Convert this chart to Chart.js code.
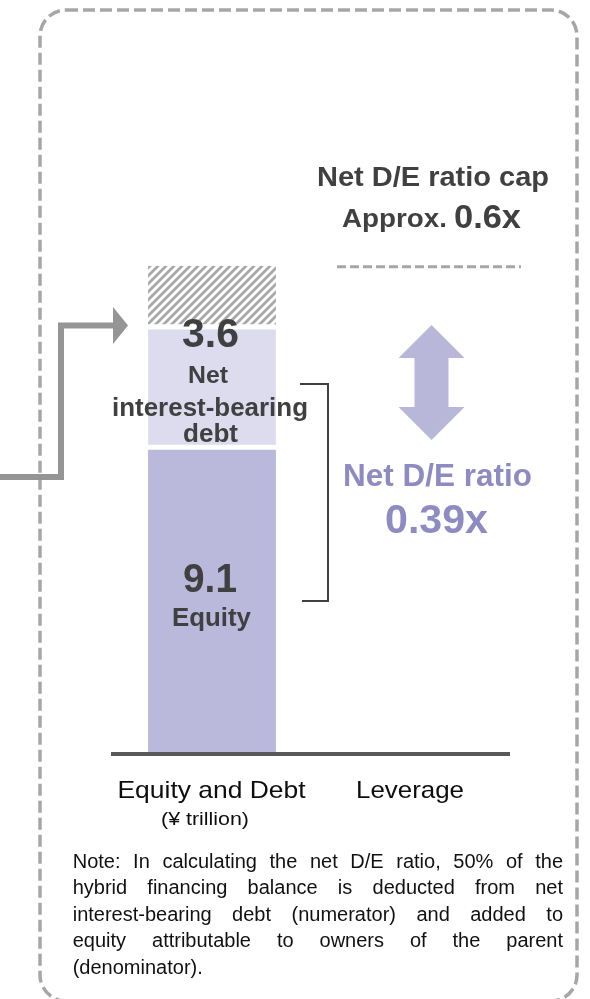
<!DOCTYPE html>
<html>
<head>
<meta charset="utf-8">
<script src="https://cdn.jsdelivr.net/npm/chart.js@4.4.1/dist/chart.umd.min.js"></script>
<style>
  html, body { margin: 0; padding: 0; background: #fff; }
  #chart { display: block; }
</style>
</head>
<body>
<canvas id="chart" width="590" height="999"></canvas>
<script>
const categories = ["Equity and Debt", "Leverage"];
const equity = [9.1, null];
const netDebt = [3.6, null];
const capRoom = [1.9, null]; // hatched headroom up to the cap
const deRatio = "0.39x";
const deCap = "0.6x";
const unitLabel = "(¥ trillion)";
const noteLines = [
  "Note: In calculating the net D/E ratio, 50% of the",
  "hybrid financing balance is deducted from net",
  "interest-bearing debt (numerator) and added to",
  "equity attributable to owners of the parent",
  "(denominator)."
];

const FONT = '"Liberation Sans", Arial, sans-serif';
const DARK = "#404040";
const LAVENDER = "#bab9db";
const LIGHT = "#dcdcee";

function hatch() {
  const c = document.createElement("canvas");
  c.width = 8;
  c.height = 8;
  const g = c.getContext("2d");
  g.strokeStyle = "#a8a8a8";
  g.lineWidth = 2.8;
  g.beginPath();
  g.moveTo(-2, 10); g.lineTo(10, -2);
  g.moveTo(-2, 2); g.lineTo(2, -2);
  g.moveTo(6, 10); g.lineTo(10, 6);
  g.stroke();
  return g.createPattern(c, "repeat");
}

// draw text squeezed/stretched to sit between x0 and x1
function fitText(ctx, text, x0, x1, baseline, size, weight, color) {
  ctx.save();
  ctx.font = `${weight} ${size}px ${FONT}`;
  const w = ctx.measureText(text).width;
  ctx.translate(x0, baseline);
  ctx.scale((x1 - x0) / w, 1);
  ctx.fillStyle = color;
  ctx.textAlign = "left";
  ctx.textBaseline = "alphabetic";
  ctx.fillText(text, 0, 0);
  ctx.restore();
}

function fitCentered(ctx, text, cx, width, baseline, size, weight, color) {
  fitText(ctx, text, cx - width / 2, cx + width / 2, baseline, size, weight, color);
}

function drawNote(ctx, left, right, top, lead) {
  ctx.save();
  ctx.font = `20px ${FONT}`;
  ctx.fillStyle = "#111";
  ctx.textBaseline = "alphabetic";
  noteLines.forEach((line, i) => {
    const y = top + i * lead;
    if (i === noteLines.length - 1) {
      ctx.fillText(line, left, y);
      return;
    }
    const words = line.split(" ");
    const wordsW = words.reduce((s, w) => s + ctx.measureText(w).width, 0);
    const gap = (right - left - wordsW) / (words.length - 1);
    let x = left;
    words.forEach(w => {
      ctx.fillText(w, x, y);
      x += ctx.measureText(w).width + gap;
    });
  });
  ctx.restore();
}

const annotations = {
  id: "annotations",
  afterDraw(chart) {
    const ctx = chart.ctx;
    const x = chart.scales.x;
    const y = chart.scales.y;

    // dashed frame
    ctx.save();
    ctx.strokeStyle = "#a6a6a6";
    ctx.lineWidth = 3.5;
    ctx.setLineDash([12, 5]);
    ctx.beginPath();
    ctx.roundRect(40, 10, 537, 991, 26);
    ctx.stroke();
    ctx.restore();

    // grey arrow coming in from the left
    ctx.save();
    ctx.strokeStyle = "#959595";
    ctx.fillStyle = "#959595";
    ctx.lineWidth = 6;
    ctx.lineJoin = "miter";
    ctx.beginPath();
    ctx.moveTo(0, 477);
    ctx.lineTo(61, 477);
    ctx.lineTo(61, 325.5);
    ctx.lineTo(114, 325.5);
    ctx.stroke();
    ctx.beginPath();
    ctx.moveTo(113, 307);
    ctx.lineTo(128, 325.5);
    ctx.lineTo(113, 344);
    ctx.closePath();
    ctx.fill();
    ctx.restore();

    // cap level dashed line
    const capY = y.getPixelForValue(equity[0] + netDebt[0] + capRoom[0]) + 1;
    ctx.save();
    ctx.strokeStyle = "#a6a6a6";
    ctx.lineWidth = 3;
    ctx.setLineDash([9, 4]);
    ctx.beginPath();
    ctx.moveTo(337, capY);
    ctx.lineTo(521, capY);
    ctx.stroke();
    ctx.restore();

    // cap text
    fitText(ctx, "Net D/E ratio cap", 317, 549, 186, 27, "bold", DARK);
    fitText(ctx, "Approx.", 342, 447, 227, 25, "bold", DARK);
    fitText(ctx, deCap, 454, 521, 228, 33, "bold", DARK);

    // bar segment labels
    fitText(ctx, netDebt[0].toFixed(1), 182, 239, 347, 41, "bold", DARK);
    fitText(ctx, "Net", 188, 228, 383, 24, "bold", DARK);
    fitText(ctx, "interest-bearing", 112, 308, 416, 25, "bold", DARK);
    fitText(ctx, "debt", 183, 238, 442, 25, "bold", DARK);
    fitText(ctx, equity[0].toFixed(1), 183, 237, 592, 41, "bold", DARK);
    fitText(ctx, "Equity", 172, 251, 626, 25, "bold", DARK);

    // bracket
    ctx.save();
    ctx.strokeStyle = DARK;
    ctx.lineWidth = 2;
    ctx.beginPath();
    ctx.moveTo(300, 384);
    ctx.lineTo(328, 384);
    ctx.lineTo(328, 601);
    ctx.lineTo(302, 601);
    ctx.stroke();
    ctx.restore();

    // double arrow
    ctx.save();
    ctx.fillStyle = "#b8b7d9";
    ctx.beginPath();
    ctx.moveTo(431.5, 325);
    ctx.lineTo(464.5, 358);
    ctx.lineTo(448.5, 358);
    ctx.lineTo(448.5, 407);
    ctx.lineTo(464.5, 407);
    ctx.lineTo(431.5, 440);
    ctx.lineTo(398.5, 407);
    ctx.lineTo(414.5, 407);
    ctx.lineTo(414.5, 358);
    ctx.lineTo(398.5, 358);
    ctx.closePath();
    ctx.fill();
    ctx.restore();

    fitText(ctx, "Net D/E ratio", 343, 532, 486, 31, "bold", "#8e8bc3");
    fitText(ctx, deRatio, 385, 488, 533, 41, "bold", "#8e8bc3");

    // category labels
    fitCentered(ctx, categories[0], x.getPixelForValue(0) - 0.5, 188, 798, 24, "normal", "#0d0d0d");
    fitCentered(ctx, categories[1], x.getPixelForValue(1), 108, 798, 24, "normal", "#0d0d0d");
    fitCentered(ctx, unitLabel, x.getPixelForValue(0) - 7, 88, 825, 18, "normal", "#0d0d0d");

    drawNote(ctx, 72.7, 563, 867.7, 26.5);
  }
};

const segBorder = { top: 0, right: 0, bottom: 5, left: 0 };

new Chart(document.getElementById("chart"), {
  type: "bar",
  data: {
    labels: categories,
    datasets: [
      { label: "Equity", data: equity, backgroundColor: LAVENDER, borderWidth: 0 },
      { label: "Net interest-bearing debt", data: netDebt, backgroundColor: LIGHT,
        borderColor: "#fff", borderWidth: segBorder, borderSkipped: false },
      { label: "Cap headroom", data: capRoom, backgroundColor: hatch(),
        borderColor: "#fff", borderWidth: segBorder, borderSkipped: false }
    ]
  },
  options: {
    responsive: false,
    animation: false,
    events: [],
    layout: { padding: { left: 113, right: 81, top: 219, bottom: 245 } },
    datasets: { bar: { barPercentage: 0.646, categoryPercentage: 1 } },
    plugins: { legend: { display: false }, tooltip: { enabled: false } },
    scales: {
      x: {
        stacked: true,
        grid: { display: false, drawTicks: false },
        ticks: { display: false },
        border: { display: true, color: "#595959", width: 4, z: 1 },
        afterFit: s => { s.height = 0; }
      },
      y: { stacked: true, display: false, min: 0, max: 16 }
    }
  },
  plugins: [annotations]
});
</script>
</body>
</html>
